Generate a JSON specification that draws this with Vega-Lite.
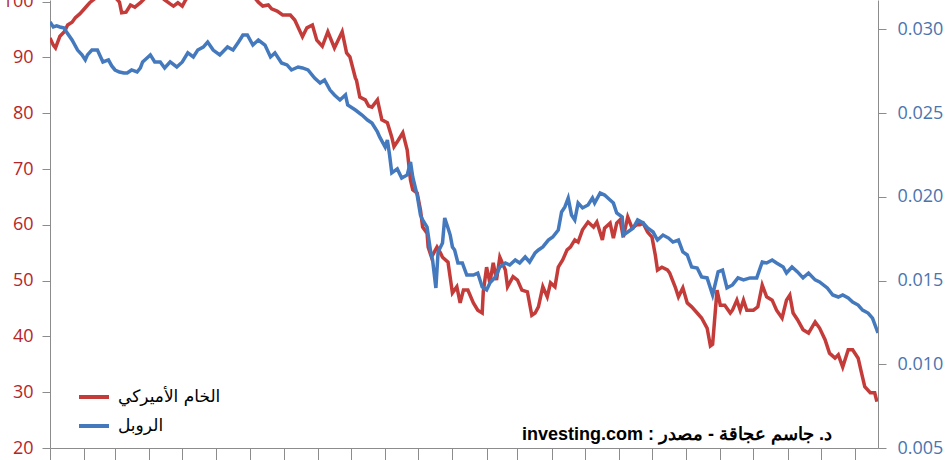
{
  "$schema": "https://vega.github.io/schema/vega-lite/v6.json",
  "width": 828,
  "height": 448,
  "autosize": {"type": "none"},
  "padding": {"left": 50, "top": 0, "right": 72, "bottom": 12},
  "background": "white",
  "config": {"view": {"stroke": null}, "font": "Open Sans"},
  "datasets": {
    "oil": [
      {"date": "2014-01-01", "price": 93.5}, {"date": "2014-01-04", "price": 92.2}, {"date": "2014-01-06", "price": 91.7},
      {"date": "2014-01-10", "price": 93.8}, {"date": "2014-01-14", "price": 94.6}, {"date": "2014-01-17", "price": 95.8},
      {"date": "2014-01-21", "price": 96.3}, {"date": "2014-01-24", "price": 97.1}, {"date": "2014-01-28", "price": 97.8},
      {"date": "2014-02-02", "price": 98.9}, {"date": "2014-02-06", "price": 99.8}, {"date": "2014-02-11", "price": 100.6},
      {"date": "2014-02-15", "price": 101.7}, {"date": "2014-02-20", "price": 102.1}, {"date": "2014-02-24", "price": 101.4},
      {"date": "2014-03-01", "price": 100.8}, {"date": "2014-03-05", "price": 99.9}, {"date": "2014-03-07", "price": 98.0},
      {"date": "2014-03-11", "price": 98.1}, {"date": "2014-03-15", "price": 99.4}, {"date": "2014-03-19", "price": 99.0},
      {"date": "2014-03-24", "price": 99.8}, {"date": "2014-03-28", "price": 100.6}, {"date": "2014-04-02", "price": 101.2},
      {"date": "2014-04-06", "price": 101.7}, {"date": "2014-04-11", "price": 101.0}, {"date": "2014-04-15", "price": 100.3},
      {"date": "2014-04-20", "price": 99.6}, {"date": "2014-04-23", "price": 99.2}, {"date": "2014-04-27", "price": 99.8},
      {"date": "2014-05-01", "price": 99.2}, {"date": "2014-05-04", "price": 100.3}, {"date": "2014-05-08", "price": 101.2},
      {"date": "2014-05-17", "price": 102.1}, {"date": "2014-05-26", "price": 102.8}, {"date": "2014-06-04", "price": 102.4},
      {"date": "2014-06-13", "price": 103.0}, {"date": "2014-06-22", "price": 102.1}, {"date": "2014-07-01", "price": 101.2},
      {"date": "2014-07-06", "price": 100.6}, {"date": "2014-07-09", "price": 99.9}, {"date": "2014-07-13", "price": 99.2},
      {"date": "2014-07-18", "price": 99.4}, {"date": "2014-07-21", "price": 98.7}, {"date": "2014-07-26", "price": 98.3},
      {"date": "2014-07-31", "price": 97.6}, {"date": "2014-08-07", "price": 97.6}, {"date": "2014-08-11", "price": 96.7},
      {"date": "2014-08-18", "price": 93.7}, {"date": "2014-08-22", "price": 95.3}, {"date": "2014-08-27", "price": 95.8},
      {"date": "2014-08-31", "price": 93.1}, {"date": "2014-09-05", "price": 92.0}, {"date": "2014-09-10", "price": 94.6},
      {"date": "2014-09-16", "price": 91.7}, {"date": "2014-09-23", "price": 94.6}, {"date": "2014-09-27", "price": 90.8},
      {"date": "2014-09-30", "price": 90.1}, {"date": "2014-10-05", "price": 86.3}, {"date": "2014-10-06", "price": 85.9},
      {"date": "2014-10-09", "price": 82.9}, {"date": "2014-10-14", "price": 82.4}, {"date": "2014-10-17", "price": 81.3},
      {"date": "2014-10-20", "price": 81.1}, {"date": "2014-10-25", "price": 82.4}, {"date": "2014-10-29", "price": 78.8},
      {"date": "2014-11-03", "price": 78.3}, {"date": "2014-11-07", "price": 75.7}, {"date": "2014-11-09", "price": 74.0},
      {"date": "2014-11-13", "price": 75.2}, {"date": "2014-11-17", "price": 76.5}, {"date": "2014-11-21", "price": 73.4},
      {"date": "2014-11-24", "price": 68.0}, {"date": "2014-11-26", "price": 66.3}, {"date": "2014-11-30", "price": 65.7},
      {"date": "2014-12-03", "price": 62.7}, {"date": "2014-12-05", "price": 59.6}, {"date": "2014-12-09", "price": 58.5},
      {"date": "2014-12-10", "price": 56.0}, {"date": "2014-12-13", "price": 54.2}, {"date": "2014-12-18", "price": 56.0},
      {"date": "2014-12-21", "price": 55.0}, {"date": "2014-12-23", "price": 54.2}, {"date": "2014-12-28", "price": 53.3},
      {"date": "2015-01-01", "price": 47.8}, {"date": "2015-01-05", "price": 48.9}, {"date": "2015-01-08", "price": 46.0},
      {"date": "2015-01-11", "price": 48.3}, {"date": "2015-01-15", "price": 48.3}, {"date": "2015-01-20", "price": 46.0},
      {"date": "2015-01-24", "price": 44.7}, {"date": "2015-01-28", "price": 44.2}, {"date": "2015-01-29", "price": 48.0},
      {"date": "2015-02-01", "price": 52.4}, {"date": "2015-02-04", "price": 49.6}, {"date": "2015-02-07", "price": 53.2},
      {"date": "2015-02-10", "price": 50.1}, {"date": "2015-02-13", "price": 54.2}, {"date": "2015-02-18", "price": 51.9},
      {"date": "2015-02-20", "price": 48.9}, {"date": "2015-02-25", "price": 50.7}, {"date": "2015-03-01", "price": 50.1},
      {"date": "2015-03-05", "price": 48.3}, {"date": "2015-03-10", "price": 48.0}, {"date": "2015-03-14", "price": 43.8},
      {"date": "2015-03-17", "price": 44.2}, {"date": "2015-03-20", "price": 45.3}, {"date": "2015-03-24", "price": 48.9},
      {"date": "2015-03-28", "price": 47.1}, {"date": "2015-03-31", "price": 49.6}, {"date": "2015-04-04", "price": 48.9},
      {"date": "2015-04-07", "price": 52.4}, {"date": "2015-04-11", "price": 53.7}, {"date": "2015-04-15", "price": 55.5},
      {"date": "2015-04-18", "price": 56.0}, {"date": "2015-04-22", "price": 57.3}, {"date": "2015-04-25", "price": 56.9},
      {"date": "2015-04-29", "price": 59.1}, {"date": "2015-05-04", "price": 60.5}, {"date": "2015-05-09", "price": 59.6},
      {"date": "2015-05-12", "price": 60.5}, {"date": "2015-05-17", "price": 57.3}, {"date": "2015-05-19", "price": 59.4},
      {"date": "2015-05-24", "price": 60.3}, {"date": "2015-05-27", "price": 57.6}, {"date": "2015-05-30", "price": 60.3},
      {"date": "2015-06-02", "price": 60.9}, {"date": "2015-06-05", "price": 57.8}, {"date": "2015-06-09", "price": 61.4},
      {"date": "2015-06-13", "price": 59.4}, {"date": "2015-06-17", "price": 60.0}, {"date": "2015-06-20", "price": 60.0},
      {"date": "2015-06-23", "price": 60.3}, {"date": "2015-06-27", "price": 58.7}, {"date": "2015-07-01", "price": 57.8},
      {"date": "2015-07-04", "price": 54.6}, {"date": "2015-07-06", "price": 51.9}, {"date": "2015-07-10", "price": 52.4},
      {"date": "2015-07-15", "price": 51.9}, {"date": "2015-07-17", "price": 51.4}, {"date": "2015-07-22", "price": 48.9},
      {"date": "2015-07-25", "price": 47.1}, {"date": "2015-07-29", "price": 48.7}, {"date": "2015-08-02", "price": 46.0},
      {"date": "2015-08-06", "price": 45.3}, {"date": "2015-08-11", "price": 44.2}, {"date": "2015-08-15", "price": 43.3},
      {"date": "2015-08-20", "price": 41.5}, {"date": "2015-08-23", "price": 38.3}, {"date": "2015-08-25", "price": 38.6},
      {"date": "2015-08-29", "price": 48.3}, {"date": "2015-09-01", "price": 45.6}, {"date": "2015-09-05", "price": 45.6},
      {"date": "2015-09-10", "price": 44.2}, {"date": "2015-09-12", "price": 44.7}, {"date": "2015-09-16", "price": 46.5},
      {"date": "2015-09-19", "price": 44.7}, {"date": "2015-09-22", "price": 46.5}, {"date": "2015-09-25", "price": 44.7},
      {"date": "2015-10-01", "price": 44.7}, {"date": "2015-10-05", "price": 45.3}, {"date": "2015-10-09", "price": 49.2},
      {"date": "2015-10-13", "price": 47.1}, {"date": "2015-10-18", "price": 46.5}, {"date": "2015-10-22", "price": 44.7},
      {"date": "2015-10-27", "price": 43.3}, {"date": "2015-10-31", "price": 46.5}, {"date": "2015-11-03", "price": 47.4},
      {"date": "2015-11-06", "price": 44.2}, {"date": "2015-11-10", "price": 43.0}, {"date": "2015-11-15", "price": 41.2},
      {"date": "2015-11-20", "price": 40.6}, {"date": "2015-11-26", "price": 42.6}, {"date": "2015-11-30", "price": 41.5},
      {"date": "2015-12-05", "price": 39.4}, {"date": "2015-12-09", "price": 37.0}, {"date": "2015-12-14", "price": 36.1},
      {"date": "2015-12-17", "price": 36.7}, {"date": "2015-12-21", "price": 34.5}, {"date": "2015-12-26", "price": 37.6},
      {"date": "2015-12-30", "price": 37.6}, {"date": "2016-01-04", "price": 36.1}, {"date": "2016-01-07", "price": 33.5},
      {"date": "2016-01-10", "price": 31.0}, {"date": "2016-01-15", "price": 29.9}, {"date": "2016-01-19", "price": 29.9},
      {"date": "2016-01-21", "price": 28.3}
    ],
    "rub": [
      {"date": "2014-01-01", "rate": 0.03045}, {"date": "2014-01-04", "rate": 0.03015}, {"date": "2014-01-07", "rate": 0.03021},
      {"date": "2014-01-10", "rate": 0.03015}, {"date": "2014-01-14", "rate": 0.03009}, {"date": "2014-01-16", "rate": 0.02985},
      {"date": "2014-01-21", "rate": 0.02937}, {"date": "2014-01-26", "rate": 0.02877}, {"date": "2014-01-30", "rate": 0.02848},
      {"date": "2014-02-02", "rate": 0.02818}, {"date": "2014-02-04", "rate": 0.02848}, {"date": "2014-02-08", "rate": 0.02877},
      {"date": "2014-02-13", "rate": 0.02877}, {"date": "2014-02-18", "rate": 0.02806}, {"date": "2014-02-23", "rate": 0.02818},
      {"date": "2014-02-26", "rate": 0.02782}, {"date": "2014-03-01", "rate": 0.02758}, {"date": "2014-03-05", "rate": 0.02746},
      {"date": "2014-03-09", "rate": 0.0274}, {"date": "2014-03-12", "rate": 0.0274}, {"date": "2014-03-16", "rate": 0.02758},
      {"date": "2014-03-21", "rate": 0.02746}, {"date": "2014-03-24", "rate": 0.0277}, {"date": "2014-03-26", "rate": 0.02806},
      {"date": "2014-03-30", "rate": 0.0283}, {"date": "2014-04-02", "rate": 0.02848}, {"date": "2014-04-06", "rate": 0.02806},
      {"date": "2014-04-11", "rate": 0.02806}, {"date": "2014-04-15", "rate": 0.0277}, {"date": "2014-04-20", "rate": 0.02806},
      {"date": "2014-04-26", "rate": 0.02776}, {"date": "2014-05-01", "rate": 0.02806}, {"date": "2014-05-06", "rate": 0.0286},
      {"date": "2014-05-11", "rate": 0.02836}, {"date": "2014-05-15", "rate": 0.02877}, {"date": "2014-05-20", "rate": 0.02895},
      {"date": "2014-05-24", "rate": 0.02925}, {"date": "2014-05-29", "rate": 0.02877}, {"date": "2014-06-04", "rate": 0.02848},
      {"date": "2014-06-11", "rate": 0.02895}, {"date": "2014-06-16", "rate": 0.02877}, {"date": "2014-06-21", "rate": 0.02925},
      {"date": "2014-06-25", "rate": 0.02967}, {"date": "2014-06-29", "rate": 0.02967}, {"date": "2014-07-04", "rate": 0.02907},
      {"date": "2014-07-09", "rate": 0.02937}, {"date": "2014-07-15", "rate": 0.02907}, {"date": "2014-07-20", "rate": 0.02836},
      {"date": "2014-07-24", "rate": 0.0286}, {"date": "2014-07-30", "rate": 0.028}, {"date": "2014-08-04", "rate": 0.02788},
      {"date": "2014-08-08", "rate": 0.02758}, {"date": "2014-08-14", "rate": 0.02776}, {"date": "2014-08-18", "rate": 0.0277},
      {"date": "2014-08-23", "rate": 0.02758}, {"date": "2014-08-29", "rate": 0.0271}, {"date": "2014-09-03", "rate": 0.0268},
      {"date": "2014-09-07", "rate": 0.02698}, {"date": "2014-09-12", "rate": 0.02638}, {"date": "2014-09-16", "rate": 0.02609},
      {"date": "2014-09-21", "rate": 0.02579}, {"date": "2014-09-26", "rate": 0.02609}, {"date": "2014-09-28", "rate": 0.02549},
      {"date": "2014-10-05", "rate": 0.02519}, {"date": "2014-10-11", "rate": 0.02489}, {"date": "2014-10-16", "rate": 0.02459},
      {"date": "2014-10-20", "rate": 0.02441}, {"date": "2014-10-25", "rate": 0.02388}, {"date": "2014-10-27", "rate": 0.02358},
      {"date": "2014-11-01", "rate": 0.02298}, {"date": "2014-11-03", "rate": 0.0234}, {"date": "2014-11-05", "rate": 0.0225},
      {"date": "2014-11-07", "rate": 0.02143}, {"date": "2014-11-12", "rate": 0.02167}, {"date": "2014-11-16", "rate": 0.02113},
      {"date": "2014-11-21", "rate": 0.02131}, {"date": "2014-11-24", "rate": 0.02208}, {"date": "2014-11-26", "rate": 0.02119},
      {"date": "2014-11-30", "rate": 0.02011}, {"date": "2014-12-03", "rate": 0.01892}, {"date": "2014-12-05", "rate": 0.01862},
      {"date": "2014-12-09", "rate": 0.0182}, {"date": "2014-12-12", "rate": 0.01683}, {"date": "2014-12-14", "rate": 0.01623},
      {"date": "2014-12-17", "rate": 0.01456}, {"date": "2014-12-19", "rate": 0.01671}, {"date": "2014-12-23", "rate": 0.01725},
      {"date": "2014-12-25", "rate": 0.01874}, {"date": "2014-12-28", "rate": 0.01814}, {"date": "2014-12-30", "rate": 0.01772},
      {"date": "2015-01-01", "rate": 0.01701}, {"date": "2015-01-03", "rate": 0.01683}, {"date": "2015-01-06", "rate": 0.01605},
      {"date": "2015-01-10", "rate": 0.01605}, {"date": "2015-01-14", "rate": 0.01533}, {"date": "2015-01-20", "rate": 0.01533},
      {"date": "2015-01-24", "rate": 0.01545}, {"date": "2015-01-28", "rate": 0.01462}, {"date": "2015-02-01", "rate": 0.01444},
      {"date": "2015-02-04", "rate": 0.01486}, {"date": "2015-02-09", "rate": 0.01522}, {"date": "2015-02-13", "rate": 0.01581},
      {"date": "2015-02-18", "rate": 0.01605}, {"date": "2015-02-22", "rate": 0.01593}, {"date": "2015-02-27", "rate": 0.01623},
      {"date": "2015-03-03", "rate": 0.01605}, {"date": "2015-03-08", "rate": 0.01641}, {"date": "2015-03-12", "rate": 0.01611},
      {"date": "2015-03-17", "rate": 0.01665}, {"date": "2015-03-20", "rate": 0.01683}, {"date": "2015-03-24", "rate": 0.01701},
      {"date": "2015-03-29", "rate": 0.01742}, {"date": "2015-04-02", "rate": 0.0176}, {"date": "2015-04-07", "rate": 0.01802},
      {"date": "2015-04-10", "rate": 0.0191}, {"date": "2015-04-13", "rate": 0.0194}, {"date": "2015-04-16", "rate": 0.01993},
      {"date": "2015-04-19", "rate": 0.01892}, {"date": "2015-04-22", "rate": 0.01862}, {"date": "2015-04-25", "rate": 0.01963},
      {"date": "2015-04-29", "rate": 0.01934}, {"date": "2015-05-04", "rate": 0.01952}, {"date": "2015-05-08", "rate": 0.01993},
      {"date": "2015-05-10", "rate": 0.01963}, {"date": "2015-05-15", "rate": 0.02023}, {"date": "2015-05-19", "rate": 0.02011},
      {"date": "2015-05-24", "rate": 0.01981}, {"date": "2015-05-27", "rate": 0.01963}, {"date": "2015-05-30", "rate": 0.01904},
      {"date": "2015-06-04", "rate": 0.0188}, {"date": "2015-06-05", "rate": 0.01772}, {"date": "2015-06-09", "rate": 0.0179},
      {"date": "2015-06-14", "rate": 0.01814}, {"date": "2015-06-18", "rate": 0.01862}, {"date": "2015-06-23", "rate": 0.01844},
      {"date": "2015-06-27", "rate": 0.01814}, {"date": "2015-07-02", "rate": 0.0179}, {"date": "2015-07-06", "rate": 0.01742},
      {"date": "2015-07-11", "rate": 0.01772}, {"date": "2015-07-16", "rate": 0.01754}, {"date": "2015-07-20", "rate": 0.0173},
      {"date": "2015-07-25", "rate": 0.01742}, {"date": "2015-07-29", "rate": 0.01671}, {"date": "2015-08-02", "rate": 0.01653},
      {"date": "2015-08-06", "rate": 0.01581}, {"date": "2015-08-11", "rate": 0.01575}, {"date": "2015-08-15", "rate": 0.01522},
      {"date": "2015-08-20", "rate": 0.01516}, {"date": "2015-08-25", "rate": 0.01414}, {"date": "2015-08-30", "rate": 0.01552},
      {"date": "2015-09-03", "rate": 0.01563}, {"date": "2015-09-07", "rate": 0.01456}, {"date": "2015-09-12", "rate": 0.01474},
      {"date": "2015-09-17", "rate": 0.01516}, {"date": "2015-09-22", "rate": 0.01504}, {"date": "2015-09-28", "rate": 0.01516},
      {"date": "2015-10-04", "rate": 0.01516}, {"date": "2015-10-09", "rate": 0.01611}, {"date": "2015-10-13", "rate": 0.01605},
      {"date": "2015-10-18", "rate": 0.01623}, {"date": "2015-10-22", "rate": 0.01605}, {"date": "2015-10-28", "rate": 0.01581},
      {"date": "2015-10-31", "rate": 0.01545}, {"date": "2015-11-05", "rate": 0.01581}, {"date": "2015-11-10", "rate": 0.01552},
      {"date": "2015-11-15", "rate": 0.01516}, {"date": "2015-11-20", "rate": 0.01545}, {"date": "2015-11-26", "rate": 0.01504},
      {"date": "2015-11-30", "rate": 0.01492}, {"date": "2015-12-07", "rate": 0.01456}, {"date": "2015-12-12", "rate": 0.01414},
      {"date": "2015-12-17", "rate": 0.01402}, {"date": "2015-12-21", "rate": 0.01414}, {"date": "2015-12-26", "rate": 0.01396},
      {"date": "2015-12-30", "rate": 0.01372}, {"date": "2016-01-04", "rate": 0.01354}, {"date": "2016-01-08", "rate": 0.01324},
      {"date": "2016-01-13", "rate": 0.01306}, {"date": "2016-01-17", "rate": 0.01276}, {"date": "2016-01-22", "rate": 0.01187}
    ],
    "note": [
      {"date": "2015-03-05", "price": 21.5, "label": "investing.com : د. جاسم عجاقة - مصدر"}
    ]
  },
  "layer": [
    {
      "layer": [
        {
          "data": {"name": "oil"},
          "mark": {"type": "line", "color": "#C43C3A", "strokeWidth": 3.5, "clip": true},
          "encoding": {
            "x": {
              "field": "date", "type": "temporal",
              "scale": {"type": "utc", "domain": [{"year": 2014, "month": 1, "date": 1, "utc": true}, {"year": 2016, "month": 1, "date": 22, "utc": true}]},
              "axis": {"title": null, "labels": false, "grid": false, "tickCount": {"interval": "month", "step": 1}, "tickSize": 12, "tickColor": "#8c8c8c", "domainColor": "#8c8c8c", "tickWidth": 1, "domainWidth": 1}
            },
            "y": {
              "field": "price", "type": "quantitative",
              "scale": {"domain": [20, 100.29], "nice": false, "zero": false},
              "axis": {"orient": "left", "title": null, "grid": false, "values": [20, 30, 40, 50, 60, 70, 80, 90, 100], "tickSize": 8, "tickColor": "#8c8c8c", "domainColor": "#8c8c8c", "labelColor": "#B5262B", "labelFontSize": 18, "labelFont": "Open Sans", "labelPadding": 9, "labelOverlap": false, "labelBound": false}
            },
            "color": {
              "datum": "الخام الأميركي",
              "scale": {"domain": ["الخام الأميركي", "الروبل"], "range": ["#C43C3A", "#4479BE"]},
              "legend": {"orient": "none", "legendX": 27, "legendY": 380, "title": null, "symbolType": "stroke", "symbolStrokeWidth": 4, "symbolSize": 900, "labelFontSize": 17, "labelFont": "DejaVu Sans", "labelColor": "#000000", "rowPadding": 4, "labelOffset": 7, "padding": 0}
            }
          }
        },
        {
          "data": {"name": "note"},
          "mark": {"type": "text", "align": "left", "baseline": "alphabetic", "fontSize": 18, "fontWeight": "bold", "font": "Liberation Sans", "color": "#000000"},
          "encoding": {
            "x": {"field": "date", "type": "temporal"},
            "y": {"field": "price", "type": "quantitative"},
            "text": {"field": "label"}
          }
        }
      ]
    },
    {
      "data": {"name": "rub"},
      "mark": {"type": "line", "color": "#4479BE", "strokeWidth": 3.5, "clip": true},
      "encoding": {
        "x": {"field": "date", "type": "temporal"},
        "y": {
          "field": "rate", "type": "quantitative",
          "scale": {"domain": [0.005, 0.03176], "nice": false, "zero": false},
          "axis": {"orient": "right", "title": null, "grid": false, "values": [0.005, 0.01, 0.015, 0.02, 0.025, 0.03], "format": ".3f", "tickSize": 8, "tickColor": "#8c8c8c", "domainColor": "#8c8c8c", "labelColor": "#4A74AE", "labelFontSize": 18, "labelFont": "Open Sans", "labelPadding": 11, "labelOverlap": false, "labelBound": false}
        },
        "color": {"datum": "الروبل"}
      }
    }
  ],
  "resolve": {"scale": {"y": "independent"}}
}
